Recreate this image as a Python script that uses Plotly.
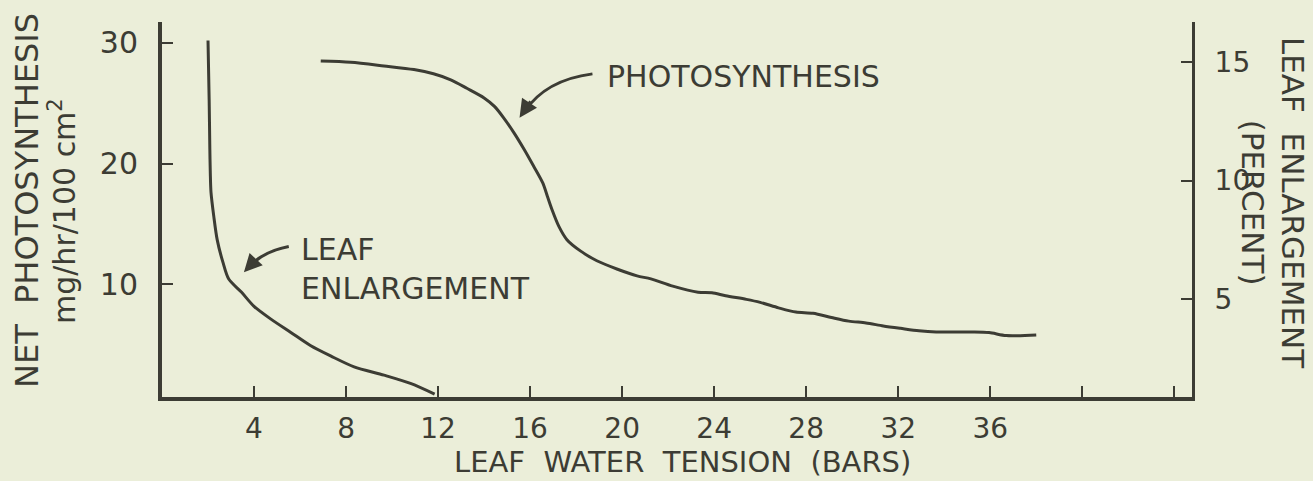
import plotly.graph_objects as go

# ---- data ----
# Leaf water tension (bars) and net photosynthesis (mg/hr/100 cm2), left axis
photo_x = [6.9, 8.2, 9.65, 10.95, 11.8, 12.55, 13.25, 14.0, 14.45, 14.85, 15.3, 15.75,
           16.15, 16.55, 16.75, 16.95, 17.25, 17.6, 18.2, 18.9, 19.8, 20.65, 21.25,
           22.2, 23.3, 23.9, 24.5, 25.4, 26.0, 26.8, 27.55, 28.3, 29.1, 29.85, 30.6,
           31.35, 32.1, 32.9, 33.65, 35.2, 35.95, 36.7, 38.0]
photo_y = [28.5, 28.4, 28.1, 27.8, 27.45, 26.95, 26.25, 25.45, 24.75, 23.8, 22.55, 21.15,
           19.8, 18.4, 17.3, 16.2, 14.8, 13.7, 12.75, 11.95, 11.25, 10.7, 10.45,
           9.85, 9.35, 9.3, 9.05, 8.75, 8.5, 8.05, 7.7, 7.6, 7.25, 6.95, 6.8,
           6.55, 6.35, 6.15, 6.05, 6.05, 6.0, 5.75, 5.8]

# Leaf enlargement (percent), right axis
leaf_x = [2.0, 2.05, 2.08, 2.1, 2.13, 2.25, 2.4, 2.65, 2.9, 3.45, 4.0, 4.75, 5.6,
          6.45, 7.35, 8.35, 9.65, 10.8, 11.85]
leaf_y = [15.9, 13.4, 11.3, 10.3, 9.5, 8.5, 7.5, 6.55, 5.85, 5.3, 4.7, 4.15, 3.6,
          3.05, 2.6, 2.15, 1.8, 1.45, 1.0]

x_ticks = [4, 8, 12, 16, 20, 24, 28, 32, 36, 40, 44]
x_labels = ["4", "8", "12", "16", "20", "24", "28", "32", "36", "", ""]
left_ticks = [10, 20, 30]
right_ticks = [5, 10, 15]

INK = "#3c3c34"
BG = "#ebeed9"
FONT = "DejaVu Sans"

fig = go.Figure()
fig.add_trace(go.Scatter(x=photo_x, y=photo_y, mode="lines",
                         line=dict(color=INK, width=3, shape="spline", smoothing=0.8),
                         hoverinfo="skip", showlegend=False))
fig.add_trace(go.Scatter(x=leaf_x, y=leaf_y, mode="lines", yaxis="y2",
                         line=dict(color=INK, width=3, shape="spline", smoothing=0.8),
                         hoverinfo="skip", showlegend=False))

# curved pointer lines for the labels
fig.add_shape(type="path", xref="x", yref="y",
              path="M 18.71,27.44 Q 16.67,26.94 15.75,24.3",
              line=dict(color=INK, width=3))
fig.add_shape(type="path", xref="x", yref="y",
              path="M 5.51,13.14 Q 4.39,12.73 3.75,11.4",
              line=dict(color=INK, width=3))

annotations = [
    dict(x=15.54, y=23.8, xref="x", yref="y", ax=12, ay=-18, text="",
         showarrow=True, arrowhead=2, arrowsize=1.2, arrowwidth=3, arrowcolor=INK),
    dict(x=3.56, y=10.99, xref="x", yref="y", ax=13, ay=-14, text="",
         showarrow=True, arrowhead=2, arrowsize=1.2, arrowwidth=3, arrowcolor=INK),
    dict(x=19.24, y=27.2, xref="x", yref="y", xanchor="left", yanchor="middle",
         text="PHOTOSYNTHESIS", showarrow=False, font=dict(size=30, color=INK, family=FONT)),
    dict(x=5.95, y=11.3, xref="x", yref="y", xanchor="left", yanchor="middle", align="left",
         text="LEAF<br>ENLARGEMENT", showarrow=False, font=dict(size=30, color=INK, family=FONT)),
]

# axis titles placed in pixels, converted to paper fractions
W, H = 1313, 481
ML, MR, MT, MB = 162, 121, 22, 84
PW, PH = W - ML - MR, H - MT - MB


def px_paper(px, py):
    return (px - ML) / PW, 1 - (py - MT) / PH


titles = [
    (27, 201, "NET  PHOTOSYNTHESIS", -90, 32),
    (62, 211, "mg/hr/100 cm<sup>2</sup>", -90, 30),
    (1273, 203, "LEAF  ENLARGEMENT<br>(PERCENT)", 90, 31),
    (682, 462, "LEAF  WATER  TENSION  (BARS)", 0, 29),
]
for tx, ty, txt, ang, sz in titles:
    px_, py_ = px_paper(tx, ty)
    annotations.append(dict(x=px_, y=py_, xref="paper", yref="paper", xanchor="center",
                            yanchor="middle", align="center", text=txt, textangle=ang,
                            showarrow=False, font=dict(size=sz, color=INK, family=FONT)))

# figure caption, cut off at the bottom edge as in the source scan
cx, cy = px_paper(17, 476)
annotations.append(dict(x=cx, y=cy, xref="paper", yref="paper",
                        xanchor="left", yanchor="top", showarrow=False,
                        text="<b>Figure 4. Relative effects of</b>",
                        font=dict(size=26, color=INK, family="Liberation Serif")))
fig.update_layout(annotations=annotations)

fig.update_layout(
    width=W, height=H,
    margin=dict(l=ML, r=MR, t=MT, b=MB, pad=0),
    paper_bgcolor=BG, plot_bgcolor=BG,
    font=dict(family=FONT, color=INK, size=30),
    xaxis=dict(range=[0, 44.77], tickvals=x_ticks, ticktext=x_labels,
               ticks="inside", ticklen=11, tickwidth=2, tickcolor=INK,
               showline=True, linewidth=4, linecolor=INK, showgrid=False, zeroline=False,
               ticklabelstandoff=3, tickfont=dict(size=28, color=INK, family=FONT)),
    yaxis=dict(range=[0.66, 31.74], tickvals=left_ticks,
               ticks="inside", ticklen=11, tickwidth=2, tickcolor=INK,
               showline=True, linewidth=4, linecolor=INK, showgrid=False, zeroline=False,
               ticklabelstandoff=14, tickfont=dict(size=30, color=INK, family=FONT)),
    yaxis2=dict(range=[0.88, 16.68], tickvals=right_ticks, overlaying="y", side="right",
                ticks="inside", ticklen=11, tickwidth=2, tickcolor=INK,
                showline=True, linewidth=3, linecolor=INK, showgrid=False, zeroline=False,
                ticklabelstandoff=14, tickfont=dict(size=28, color=INK, family=FONT)),
)

fig.write_html("out.html", config={"displayModeBar": False},
               post_script="document.body.style.margin='0';document.body.style.overflow='hidden';")
